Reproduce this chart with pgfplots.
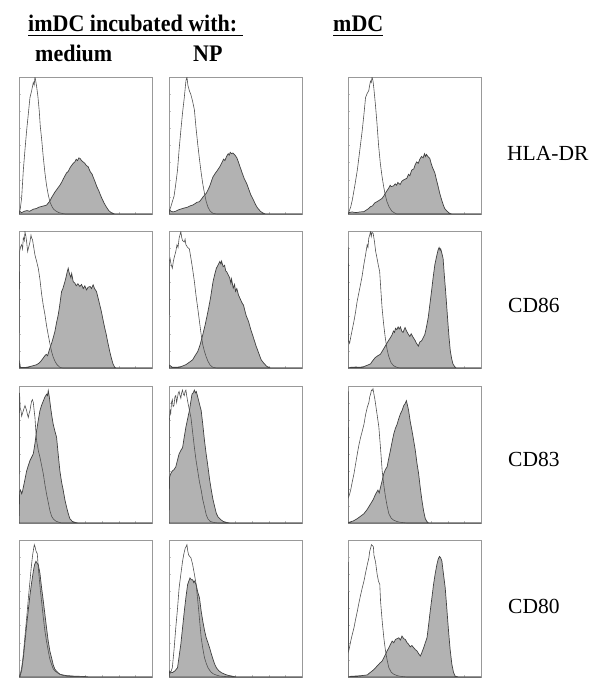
\documentclass[border=0pt]{standalone}
\usepackage{pgfplots}
\pgfplotsset{compat=1.18}
\usepackage{fontspec}
\setmainfont{Liberation Serif}
\pgfplotsset{
  panel/.style={scale only axis, width=133pt, height=137pt, anchor=north west,
    xmin=0, xmax=100, ymin=0, ymax=100,
    axis line style={black!40, line width=0.7pt},
    xtick={0,12.5,...,100}, ytick={0,12.5,...,100},
    xticklabels={}, yticklabels={},
    tick style={black!25, line width=0.3pt}, major tick length=2pt, tick align=inside,
    xtick pos=bottom, ytick pos=left},
  openc/.style={no markers, draw=black!68, line width=0.6pt},
  fillc/.style={no markers, draw=black!75, fill=black!30, line width=0.7pt}
}
\begin{document}
\begin{tikzpicture}
\useasboundingbox (0,0) rectangle (600pt,-693pt);
% headers
\node[anchor=base west, inner sep=0, font=\fontsize{22}{26}\selectfont\bfseries] at (28pt,-32pt) {\scalebox{1}[1.08]{imDC incubated with:}};
\draw[line width=1.3pt] (28pt,-35.5pt) -- (243pt,-35.5pt);
\node[anchor=base west, inner sep=0, font=\fontsize{22}{26}\selectfont\bfseries] at (333pt,-32pt) {\scalebox{1}[1.08]{mDC}};
\draw[line width=1.3pt] (333pt,-35.5pt) -- (383pt,-35.5pt);
\node[anchor=base west, inner sep=0, font=\fontsize{22}{26}\selectfont\bfseries] at (35pt,-62pt) {\scalebox{1}[1.08]{medium}};
\node[anchor=base west, inner sep=0, font=\fontsize{22}{26}\selectfont\bfseries] at (193pt,-62pt) {\scalebox{1}[1.08]{NP}};
% row labels
\node[anchor=west, inner sep=0, font=\fontsize{21.5}{26}\selectfont] at (507pt,-153pt) {HLA-DR};
\node[anchor=west, inner sep=0, font=\fontsize{21.5}{26}\selectfont] at (508pt,-305pt) {CD86};
\node[anchor=west, inner sep=0, font=\fontsize{21.5}{26}\selectfont] at (508pt,-459pt) {CD83};
\node[anchor=west, inner sep=0, font=\fontsize{21.5}{26}\selectfont] at (508pt,-606pt) {CD80};

% ---------- Row 1: HLA-DR ----------
\begin{axis}[panel, at={(19pt,-77pt)}]
\addplot[fillc] coordinates {(0,0) (0.5,2) (2,1) (4,2) (6,2.5) (8,2) (10.75,3.5) (13,4) (15,5) (17,5.5) (19,6) (20.75,6.5) (22,8) (23.25,9.5) (24.5,12) (25.75,14) (27,16) (28.5,18) (30.75,21) (32,23) (33.5,26) (35.75,30) (37,31) (38.5,34) (40.75,37) (42,38) (43,40) (44,39) (45,41) (46,40.5) (47,39) (48.25,38) (49.5,37) (50.5,35.5) (52,34.5) (53.5,31) (55,29) (55.75,27) (57,24) (58.5,20) (60,17) (60.75,15) (62.5,11) (64,8) (65.75,5) (67.5,2.5) (69,1.2) (70.75,0.5) (72,0) (100,0)} \closedcycle;
\addplot[openc] coordinates {(0,0) (1,4) (2,12) (3.25,32) (4.5,47) (5.75,61) (7,73) (8.25,85) (9.5,90) (10.75,96) (11.4,94) (12,100) (12.6,97) (13.25,93) (14.2,86) (15.25,75) (16,64) (17,55) (18.2,42) (19.5,30) (20.7,21) (22,14) (23.2,9) (24.5,6) (26,3.5) (28,2) (30,1) (32,0.5) (35,0) (100,0)};
\end{axis}
\begin{axis}[panel, at={(169pt,-77pt)}]
\addplot[fillc] coordinates {(0,0) (0.5,3) (1.5,2) (3,1.5) (5,2) (7,3) (8.5,3.5) (10.2,4) (12,4.5) (14,5) (16,6) (17.8,6.5) (19.5,7.5) (21,8.5) (22.9,9) (24.5,11) (26,13) (28,15) (30.5,20) (33,27) (35,30) (36.5,32) (38.2,34.5) (39.5,37) (41,40) (42,39) (43.3,42) (44.5,44) (45.3,43) (46,45) (47,44) (48,44.5) (49.6,43) (51,41) (52.2,38) (53.4,34.5) (55,30) (56.5,26) (58.5,22) (60,18) (61.5,14) (63.6,10) (65,7) (66.5,4.5) (68.7,2) (70.5,0.8) (72.5,0) (100,0)} \closedcycle;
\addplot[openc] coordinates {(0,0) (0.5,3) (1.3,5) (2.5,9) (3.8,13) (5.1,22) (6.4,32) (7.6,47) (8.9,61) (10.2,74) (11.5,85) (12.2,92) (12.7,97) (13.5,100) (14.2,94) (15.3,90) (16.5,87) (17.8,82) (19.1,76) (20.3,63) (21.6,51) (22.9,40) (24.2,30) (25.4,22) (26.7,15) (28,9) (29.3,5) (31,2) (33,0.5) (36,0) (100,0)};
\end{axis}
\begin{axis}[panel, at={(348pt,-77pt)}]
\addplot[fillc] coordinates {(0,0) (0.7,1) (3,1.5) (6,1) (9,1.5) (11.9,1.7) (14,3) (15.5,4) (16.9,5.3) (18.5,6) (20,8) (21.8,9) (23.5,10) (25.6,11.4) (26.8,13) (28,15) (29.3,17) (30.5,18.7) (31.7,21) (32.5,20) (34.2,20.5) (35.5,22) (36.5,21) (37.5,23) (39.2,21.5) (40.5,24) (42,25) (44.2,26) (45.5,29) (46.5,28) (47.9,32) (49.5,33) (50.5,36) (51.6,38) (52.8,37) (54,40) (55.3,42) (56.5,41) (57.5,44) (58.3,42) (59,43.5) (60,42) (61.5,40.5) (62.5,37) (63.5,34) (65.3,30) (66.5,25) (67.8,20) (69,15) (70.2,11) (71.5,7) (72.7,4) (74.5,2) (76.4,0.5) (78,0) (100,0)} \closedcycle;
\addplot[openc] coordinates {(0,0) (0.7,1.7) (2,5) (3.2,10) (5,20) (7,32) (8.8,46) (10.7,61) (12,73) (13.2,85) (14.4,88) (15.6,90) (16.3,94) (16.9,97) (17.5,96) (18.1,100) (18.8,97) (19.4,92) (20.6,80) (21.8,66) (23,50) (24.3,37) (25.5,28) (26.8,20) (28,14) (29.3,9) (31,5) (33,2) (35,0.8) (36.7,0) (100,0)};
\end{axis}

% ---------- Row 2: CD86 ----------
\begin{axis}[panel, at={(19pt,-231pt)}]
\addplot[fillc] coordinates {(0,0) (0.5,4) (1,0.5) (3,0.3) (5.75,0.5) (8,1) (10,1.5) (13.25,2.4) (15,3.5) (16.5,5) (18.25,7.3) (19.5,9) (20.5,10) (21.5,9) (23.25,14.6) (24.5,18) (25.7,22) (27,26.7) (28.2,33) (29.5,38.8) (30.5,45) (31.2,50) (32,55.8) (33,58) (34.5,63) (35.3,66) (36.2,70) (37,72.8) (37.6,70) (38.25,68) (39,66) (39.6,69) (40.75,63) (42,62) (43,60) (44.3,61.5) (45.75,59.5) (47,61) (48.3,58) (49.5,60) (50.75,57) (52,59) (53.5,59.5) (54.5,58) (55.75,60.7) (56.8,58) (58.25,55.8) (59.5,51) (60.75,46) (62,41) (63,36) (64.5,29) (65.5,25) (66.7,19) (68.25,12) (69.5,7) (70.7,3) (72,0.5) (73,0) (100,0)} \closedcycle;
\addplot[openc] coordinates {(0,0) (0.5,85) (1,88) (2,90) (2.7,87) (3.25,95) (4,93) (4.5,99.5) (5.2,96) (5.75,92) (6.5,85) (7.2,88) (8.25,92) (9,97) (9.5,95) (10.2,93.4) (10.75,90) (12,82.5) (13.2,78) (14.5,72.8) (15.7,65) (17,54) (18.2,46) (19.5,39) (20.7,31) (22,24) (23.2,18) (24.5,12) (25.7,8) (27,5) (28.5,2.5) (30.75,0.5) (33,0) (100,0)};
\end{axis}
\begin{axis}[panel, at={(169pt,-231pt)}]
\addplot[fillc] coordinates {(0,0) (0.5,2) (2.5,0.5) (6,0.5) (9,1) (12.7,2.4) (15,4) (17.8,6) (19.6,9) (21.6,12) (23.4,17) (25.4,24.3) (27.3,32) (29.3,41.3) (31.2,51) (33.1,63) (34.3,68) (35.6,72.8) (36.8,75) (38.2,77.7) (39,76) (39.5,78) (40.7,74) (41.8,75) (42.6,71) (43.5,70) (44.5,68) (45.6,66) (46.5,62) (47,65) (48.3,58.3) (49.3,61) (50,56) (51,58) (52.2,53.4) (53.3,51) (54.2,49) (55.2,47) (56,46) (57,42) (58.1,38) (59.8,34) (61.5,28) (63.6,21.8) (65.5,16) (67.4,11) (69.3,6) (71.2,3.6) (73.5,1.2) (76.3,0) (100,0)} \closedcycle;
\addplot[openc] coordinates {(0,0) (0.3,78) (0.8,80) (1.5,76) (2.5,72.8) (3.3,78) (4,81) (5.1,85) (6,90) (6.8,88) (7.6,94.7) (8.2,97) (8.9,99.5) (9.6,95) (10.2,93) (11.5,92) (12.1,94) (12.7,90) (14,88) (15.3,87) (16.5,80) (17.8,72) (19.1,63) (20.3,53) (21.6,43.7) (22.9,34) (24.2,24.3) (25.4,17) (26.7,12) (28,8) (29.3,4.9) (31,2) (33,0.5) (36,0) (100,0)};
\end{axis}
\begin{axis}[panel, at={(348pt,-231pt)}]
\addplot[fillc] coordinates {(0,0) (2,0.5) (6,0.7) (9,0.5) (11.9,1) (14.5,2) (16.9,3) (18.7,5.5) (20.6,7.7) (22.5,9) (24.3,10) (26.2,13) (28,16) (29.8,19) (31.8,22) (33,24) (34.2,27) (35,26) (35.7,29) (36.7,28) (37.7,30) (38.5,28.5) (39.4,30) (40.4,27) (41.4,26) (42.2,28) (42.9,29.5) (44,27) (45.4,24.6) (46.5,23) (47.5,25) (49.1,22.2) (50.5,20) (51.5,18) (52.9,16) (54,19) (55.3,19.8) (56.5,22) (57.8,24.6) (59,30) (60.3,36.7) (61.5,46) (62.8,56) (64,66) (65.3,75.4) (66.5,81) (67.7,86) (68.5,88) (69.2,86) (69.7,87) (70.5,84) (71.5,80) (72.4,68) (73.4,56) (74.3,44) (75.2,32) (76,22) (76.9,12.6) (77.9,7) (78.9,3) (80.2,1) (81.4,0) (100,0)} \closedcycle;
\addplot[openc] coordinates {(0,0) (0.3,88) (0.5,20) (1.2,18) (2,22.2) (3.2,28) (4.5,34.3) (5.7,41) (6.9,48.8) (8.2,55) (9.4,60.9) (10.6,67) (11.9,75.4) (13.1,82) (14.4,89.9) (15,88) (15.6,94.7) (16.3,97) (16.9,99.5) (17.5,96) (18,99) (18.9,98.3) (19.9,92.3) (20.8,85) (21.8,80.2) (22.8,75) (23.8,70.5) (24.7,57) (25.6,44) (26.8,32) (28,22.2) (29.3,14) (30.5,8.9) (32.3,4) (34.2,1.7) (36.7,0.5) (39.2,0) (100,0)};
\end{axis}

% ---------- Row 3: CD83 ----------
\begin{axis}[panel, at={(19pt,-386pt)}]
\addplot[fillc] coordinates {(0,0) (0.5,23) (1.2,24) (2,21.4) (2.6,23) (3.25,26) (4.5,32) (5.75,38) (7,42) (8.25,45.6) (9.5,48) (10.75,50.5) (12,58) (13.25,67.5) (14.5,75) (15.75,82) (17,86) (18.25,89) (19.5,92) (20.75,94) (21.4,93) (22,96.6) (22.8,92) (23.75,84.5) (24.7,78) (25.75,72) (27,67) (28.25,62.6) (29.5,50) (30.75,38) (32,30) (33.25,24) (34.5,17) (35.75,11.7) (37,7) (38.25,3.2) (40,1.2) (42,0.5) (44.5,0) (100,0)} \closedcycle;
\addplot[openc] coordinates {(0,0) (0.4,95) (0.9,84) (1.5,82) (2,78) (2.6,80) (3.25,82) (3.9,84) (4.5,85.7) (5.1,84) (5.75,82) (6.4,79) (7,77) (7.6,80) (8.25,82) (8.9,86) (9.5,89) (10.1,90) (10.75,88) (11.4,82) (12,77) (12.6,68) (13.25,60) (14.5,53) (15.75,48) (17,42) (18.25,36) (19.5,28) (20.75,21) (22,15) (23.25,9) (24.5,5) (25.75,3) (27.5,1.5) (29.5,0.7) (32,0) (100,0)};
\end{axis}
\begin{axis}[panel, at={(169pt,-386pt)}]
\addplot[fillc] coordinates {(0,0) (0.4,33.5) (1.3,36) (2.5,38) (3.8,39) (5.1,41) (6.4,46) (7.6,50.5) (8.9,53) (10.2,55) (11.5,63) (12.7,70) (14,76) (15.3,82) (16.3,88) (17.3,94) (18.2,95) (19.1,97) (19.8,95) (20.5,96) (21.6,92) (22.9,87) (24.2,82) (25.4,72) (26.7,60) (28,50) (29.3,41) (30.5,32) (31.8,24) (33.1,17) (34.4,11.7) (35.6,7) (36.9,4.4) (38.8,2.5) (40.7,1.2) (43,0.5) (45.8,0) (100,0)} \closedcycle;
\addplot[openc] coordinates {(0,0) (0.3,75) (0.8,82) (1.3,80) (1.9,88) (2.5,90) (3.1,85) (3.8,86) (4.4,92) (5.1,93) (5.7,88) (6.3,91) (7,95) (7.6,96) (8.3,93) (8.9,91) (9.5,95) (10.2,97) (10.8,94) (11.5,93) (12.1,96) (12.7,97) (13.3,93) (14,89) (15.2,83) (16.5,77) (17.8,66) (19.1,55) (20.3,46) (21.6,38) (22.9,30) (24.2,24) (25.4,17) (26.7,11.7) (28,6) (29.3,3) (31,1.2) (33.1,0.5) (36.9,0) (100,0)};
\end{axis}
\begin{axis}[panel, at={(348pt,-386pt)}]
\addplot[fillc] coordinates {(0,0) (0.7,0.5) (4,1.5) (7,3.2) (9.5,5) (12,6.8) (14.5,10) (17,14) (18.9,17) (20.7,21) (22.5,24) (23.5,22) (24.4,26) (25.7,31) (26.9,36) (28.1,39) (29.4,41) (30.6,47) (31.9,53) (33.1,59) (34.4,65) (35.6,69) (36.9,72) (38.1,76) (39.4,79.6) (40.6,82) (41.9,85.7) (42.9,87) (43.9,89.3) (44.7,86) (45.6,82) (46.8,74) (48.1,67.5) (49.4,60) (50.6,53) (51.8,44) (53.1,36) (54.3,26) (55.6,16.5) (56.8,9) (58.1,3.2) (59.3,1) (60.6,0) (100,0)} \closedcycle;
\addplot[openc] coordinates {(0,0) (0.25,96) (0.5,19) (1.2,21) (2,24) (3.2,30) (4.5,36) (5.7,43) (7,50.5) (8.2,57) (9.5,62.6) (10.7,67) (12,72) (13.2,79) (14.5,84.5) (15.7,88) (16.3,92) (17,94) (17.6,97) (18.2,96.6) (18.8,98) (19.5,94) (20.1,91) (20.7,87) (21.9,79) (23.2,70) (24.5,54) (25.7,38) (27,27) (28.2,19) (29.5,12) (30.7,6.8) (32.5,3.5) (34.4,2) (37,1) (39.4,0.5) (44.4,0) (100,0)};
\end{axis}

% ---------- Row 4: CD80 ----------
\begin{axis}[panel, at={(19pt,-540pt)}]
\addplot[fillc] coordinates {(0,0) (0.75,0.7) (2,5) (3.25,14) (4.5,26) (5.75,38) (7,49) (8.25,60) (9.5,69) (10.75,77) (11.7,82) (12.75,84.5) (13.6,83) (14.5,82) (15.7,76) (17,65) (18.2,56) (19.5,45.6) (20.7,36) (22,26) (23.2,19) (24.5,14) (25.7,9) (27,5.6) (29,3.5) (30.75,2) (33,1.5) (35.75,1) (40,0.7) (45,0.5) (50,0.3) (53,0) (100,0)} \closedcycle;
\addplot[openc] coordinates {(0,0) (1.25,3.2) (2.2,8) (3.25,16.5) (4.5,30) (5.75,43) (7,57) (8.25,70) (9.2,80) (10.25,89) (10.9,93) (11.5,96.6) (12.1,95) (12.75,92) (13.75,90) (14.5,80) (15.25,72) (16.1,63) (17,55) (18.2,44) (19.5,33.5) (20.7,26) (22,19) (23.2,13) (24.5,9.2) (25.7,6) (27,4.4) (29,3) (30.75,2) (33,1.2) (35.75,0.7) (40,0.5) (43.25,0.5) (47,0.3) (50.75,0) (100,0)};
\end{axis}
\begin{axis}[panel, at={(169pt,-540pt)}]
\addplot[fillc] coordinates {(0,0) (0.5,4.4) (1.5,3.5) (2.5,3.2) (4.5,4.5) (6.4,6.8) (7.6,15) (8.9,24) (10.2,36) (11.5,48) (12.7,58) (14,67.5) (14.9,70) (15.8,72.3) (16.8,71) (17.8,71) (18.6,69) (19.1,70) (20.4,67.5) (21.6,62) (22.9,57.8) (24.2,48) (25.4,40.8) (26.7,34) (28,28.6) (29.3,25) (30.5,21.4) (31.8,17) (33.1,12.9) (34.3,9.5) (35.6,6.8) (37.5,4.5) (39.4,3.2) (42,2) (44.5,1.2) (47.5,0.6) (50.9,0) (100,0)} \closedcycle;
\addplot[openc] coordinates {(0,0) (0.5,2) (1.5,4) (2.5,6.8) (3.8,20) (5.1,36) (6.4,50) (7.6,65) (8.9,75) (10.2,84.5) (11.2,90) (12.2,94) (12.8,95) (13.5,96.6) (14.1,92) (14.8,89) (15.6,88) (16.5,87) (17.8,82) (19.1,75) (20.4,67.5) (21.4,58) (22.4,48) (23.3,38) (24.2,28.6) (25.4,21) (26.7,14) (28,10) (29.3,6.8) (31.2,4) (33.1,2.4) (35.6,1.4) (38.2,0.7) (43,0.3) (48.3,0) (100,0)};
\end{axis}
\begin{axis}[panel, at={(348pt,-540pt)}]
\addplot[fillc] coordinates {(0,0) (2,0.5) (6,0.7) (10,1) (14.5,1.5) (16.3,3) (18.2,4.4) (20,6) (21.9,8) (23.8,10) (25.7,11.7) (26.9,14) (28.2,16.5) (29.4,19) (30.7,21.4) (32,24) (33.2,26.2) (34.4,25) (35.7,27.4) (36.9,28) (38.2,28.6) (39.4,27) (40.6,29.9) (41.9,28) (43.1,27.4) (44.4,25) (45.6,23.8) (46.8,22) (48,23) (49.4,21.4) (50.6,20) (51.9,19) (53.1,17) (54.4,15.3) (55.6,18) (56.9,21.4) (58.1,25) (59.4,28.6) (60.6,38) (61.8,48) (63.1,58) (64.3,67.5) (65.5,75) (66.8,82) (67.8,86) (68.8,88) (69.7,87) (70.6,84.5) (71.8,75) (73.1,65) (74.3,50) (75.6,33.5) (76.8,20) (78.1,9.2) (79.3,3.5) (80.5,0.7) (83,0) (100,0)} \closedcycle;
\addplot[openc] coordinates {(0,0) (0.25,84) (0.5,19) (1.2,22) (2,26) (3.2,31) (4.5,36) (5.7,42) (7,48) (8.2,54) (9.5,60) (10.7,65) (12,70) (13.2,76) (14.5,82) (15.7,87) (16.3,91.7) (17,94) (17.6,96.6) (18.3,96) (19.1,95) (19.5,89) (20.7,84) (21.9,75) (22.9,70) (23.9,67.5) (24.5,55) (25.7,40.8) (27,28) (28.2,19) (29.5,12) (30.7,6.8) (32.5,3.5) (34.4,2) (37,1) (39.4,0.5) (44.4,0) (100,0)};
\end{axis}
\end{tikzpicture}
\end{document}
